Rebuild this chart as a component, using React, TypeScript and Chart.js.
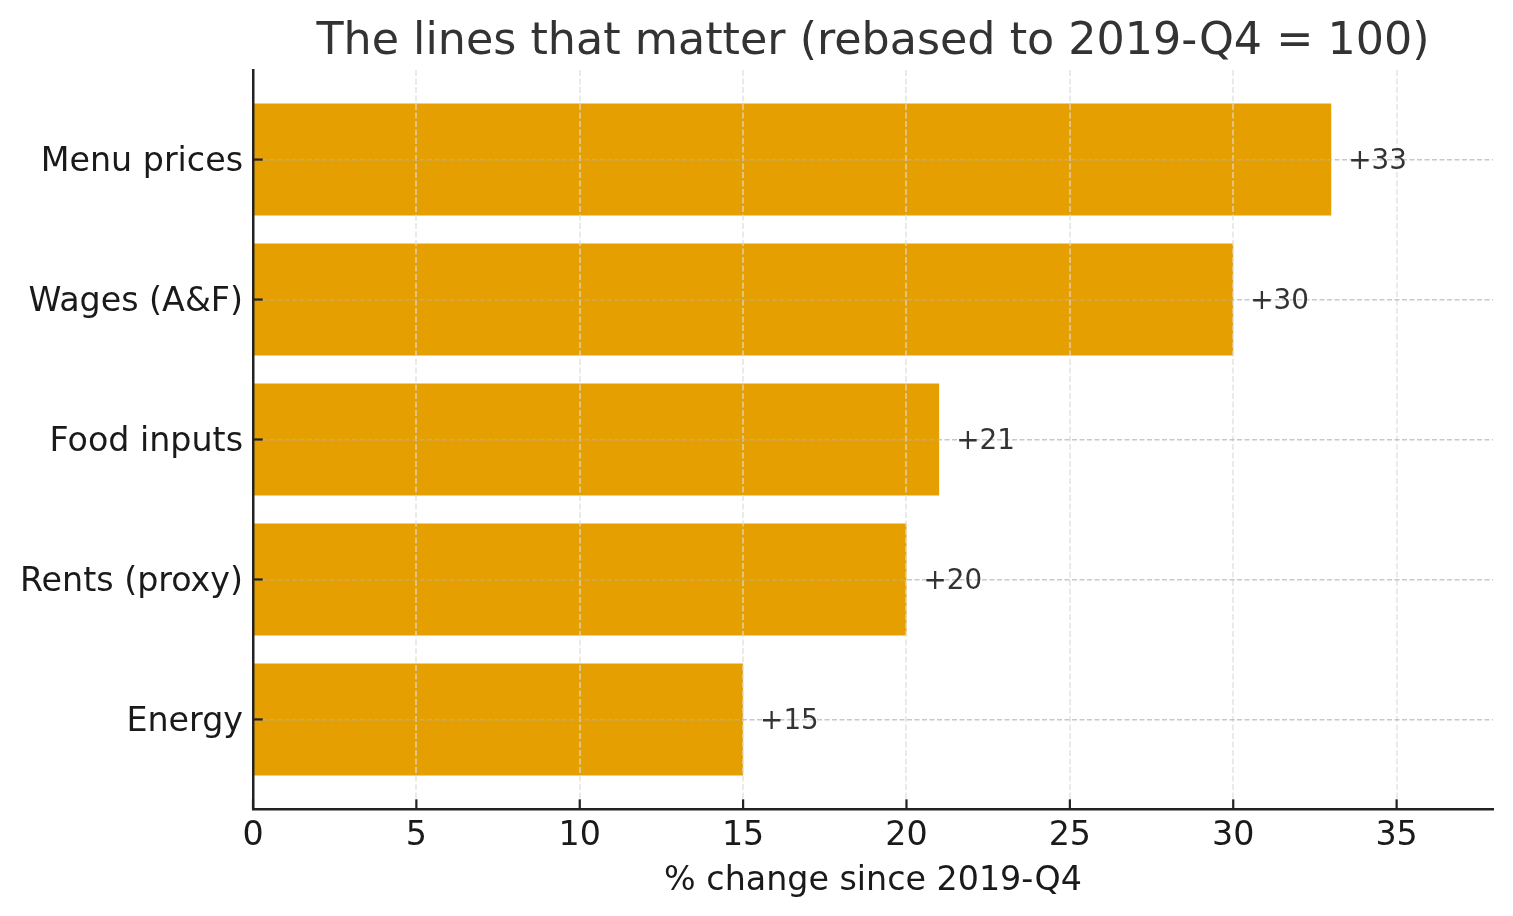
import React, { useEffect, useRef } from "react";
import { Chart, registerables } from "chart.js";

Chart.register(...registerables);

const categories = ["Menu prices", "Wages (A&F)", "Food inputs", "Rents (proxy)", "Energy"];
const changeValues = [33, 30, 21, 20, 15];
const valueLabels = ["+33", "+30", "+21", "+20", "+15"];
const xTickValues = [0, 5, 10, 15, 20, 25, 30, 35];

const TITLE = "The lines that matter (rebased to 2019-Q4 = 100)";
const X_TITLE = "% change since 2019-Q4";
const FONT = "'DejaVu Sans', sans-serif";

export default function App() {
  const canvasRef = useRef<HTMLCanvasElement | null>(null);

  useEffect(() => {
    if (!canvasRef.current) return;

    const overlayPlugin = {
      id: "overlay",
      afterDraw(chart: any) {
        const { ctx, chartArea, scales } = chart;
        const xs = scales.x;
        const ys = scales.y;
        ctx.save();
        // title
        ctx.fillStyle = "#333333";
        ctx.font = `44.4px ${FONT}`;
        ctx.textAlign = "center";
        ctx.textBaseline = "alphabetic";
        ctx.fillText(TITLE, (chartArea.left + chartArea.right) / 2, 54);
        // inward tick marks
        ctx.strokeStyle = "#222222";
        ctx.lineWidth = 2.2;
        xTickValues.forEach((v) => {
          const px = xs.getPixelForValue(v);
          ctx.beginPath();
          ctx.moveTo(px, chartArea.bottom);
          ctx.lineTo(px, chartArea.bottom - 9.7);
          ctx.stroke();
        });
        categories.forEach((_, i) => {
          const py = ys.getPixelForValue(i);
          ctx.beginPath();
          ctx.moveTo(chartArea.left, py);
          ctx.lineTo(chartArea.left + 9.7, py);
          ctx.stroke();
        });
        // value labels
        ctx.fillStyle = "#333333";
        ctx.font = `27.8px ${FONT}`;
        ctx.textAlign = "left";
        ctx.textBaseline = "middle";
        changeValues.forEach((v, i) => {
          ctx.fillText(valueLabels[i], xs.getPixelForValue(v) + 17, ys.getPixelForValue(i) + 2);
        });
        ctx.restore();
      },
    };

    const chart = new Chart(canvasRef.current, {
      type: "bar",
      data: {
        datasets: [
          {
            data: changeValues.map((v, i) => ({ x: v, y: i })),
            backgroundColor: "#E69F00",
            borderWidth: 0,
            categoryPercentage: 1,
            barPercentage: 0.8,
          },
        ],
      },
      options: {
        indexAxis: "y",
        animation: false,
        responsive: true,
        maintainAspectRatio: false,
        layout: { padding: { left: 0, top: 70, right: 20, bottom: 0 } },
        plugins: {
          legend: { display: false },
          tooltip: { enabled: false },
          title: { display: false },
        },
        scales: {
          x: {
            type: "linear",
            position: "bottom",
            min: 0,
            max: 37.95,
            afterBuildTicks: (scale: any) => {
              scale.ticks = xTickValues.map((v) => ({ value: v }));
            },
            afterFit: (scale: any) => {
              scale.height = 107;
            },
            ticks: {
              stepSize: 5,
              includeBounds: false,
              autoSkip: false,
              maxRotation: 0,
              padding: 7,
              z: 2,
              color: "#1a1a1a",
              font: { family: FONT, size: 33.3 },
            },
            grid: {
              display: true,
              drawTicks: false,
              offset: false,
              z: 1,
              color: "rgba(220,220,220,0.6)",
              lineWidth: 2,
            },
            border: { display: true, z: 2, color: "#222222", width: 2.5, dash: [6, 2.5], dashOffset: 0 },
            title: {
              display: true,
              text: X_TITLE,
              color: "#1a1a1a",
              font: { family: FONT, size: 33.3 },
              padding: { top: 0, bottom: 15 },
            },
          },
          y: {
            type: "linear",
            position: "left",
            min: -0.64,
            max: 4.64,
            reverse: true,
            offset: false,
            afterBuildTicks: (scale: any) => {
              scale.ticks = categories.map((_, i) => ({ value: i }));
            },
            afterFit: (scale: any) => {
              scale.width = 253;
            },
            ticks: {
              autoSkip: false,
              padding: 10,
              labelOffset: 3,
              z: 2,
              color: "#1a1a1a",
              font: { family: FONT, size: 33.3 },
              callback: (v: any) => categories[Number(v)] ?? "",
            },
            grid: {
              display: true,
              drawTicks: false,
              offset: false,
              z: 1,
              color: "rgba(176,176,176,0.7)",
              lineWidth: 1.5,
            },
            border: { display: true, z: 2, color: "#222222", width: 2.5, dash: [5, 2.5], dashOffset: 0 },
          },
        },
      } as any,
      plugins: [overlayPlugin],
    });

    return () => chart.destroy();
  }, []);

  return (
    <div style={{ position: "absolute", left: 0, top: 0, width: 1513, height: 916 }}>
      <canvas ref={canvasRef} />
    </div>
  );
}
